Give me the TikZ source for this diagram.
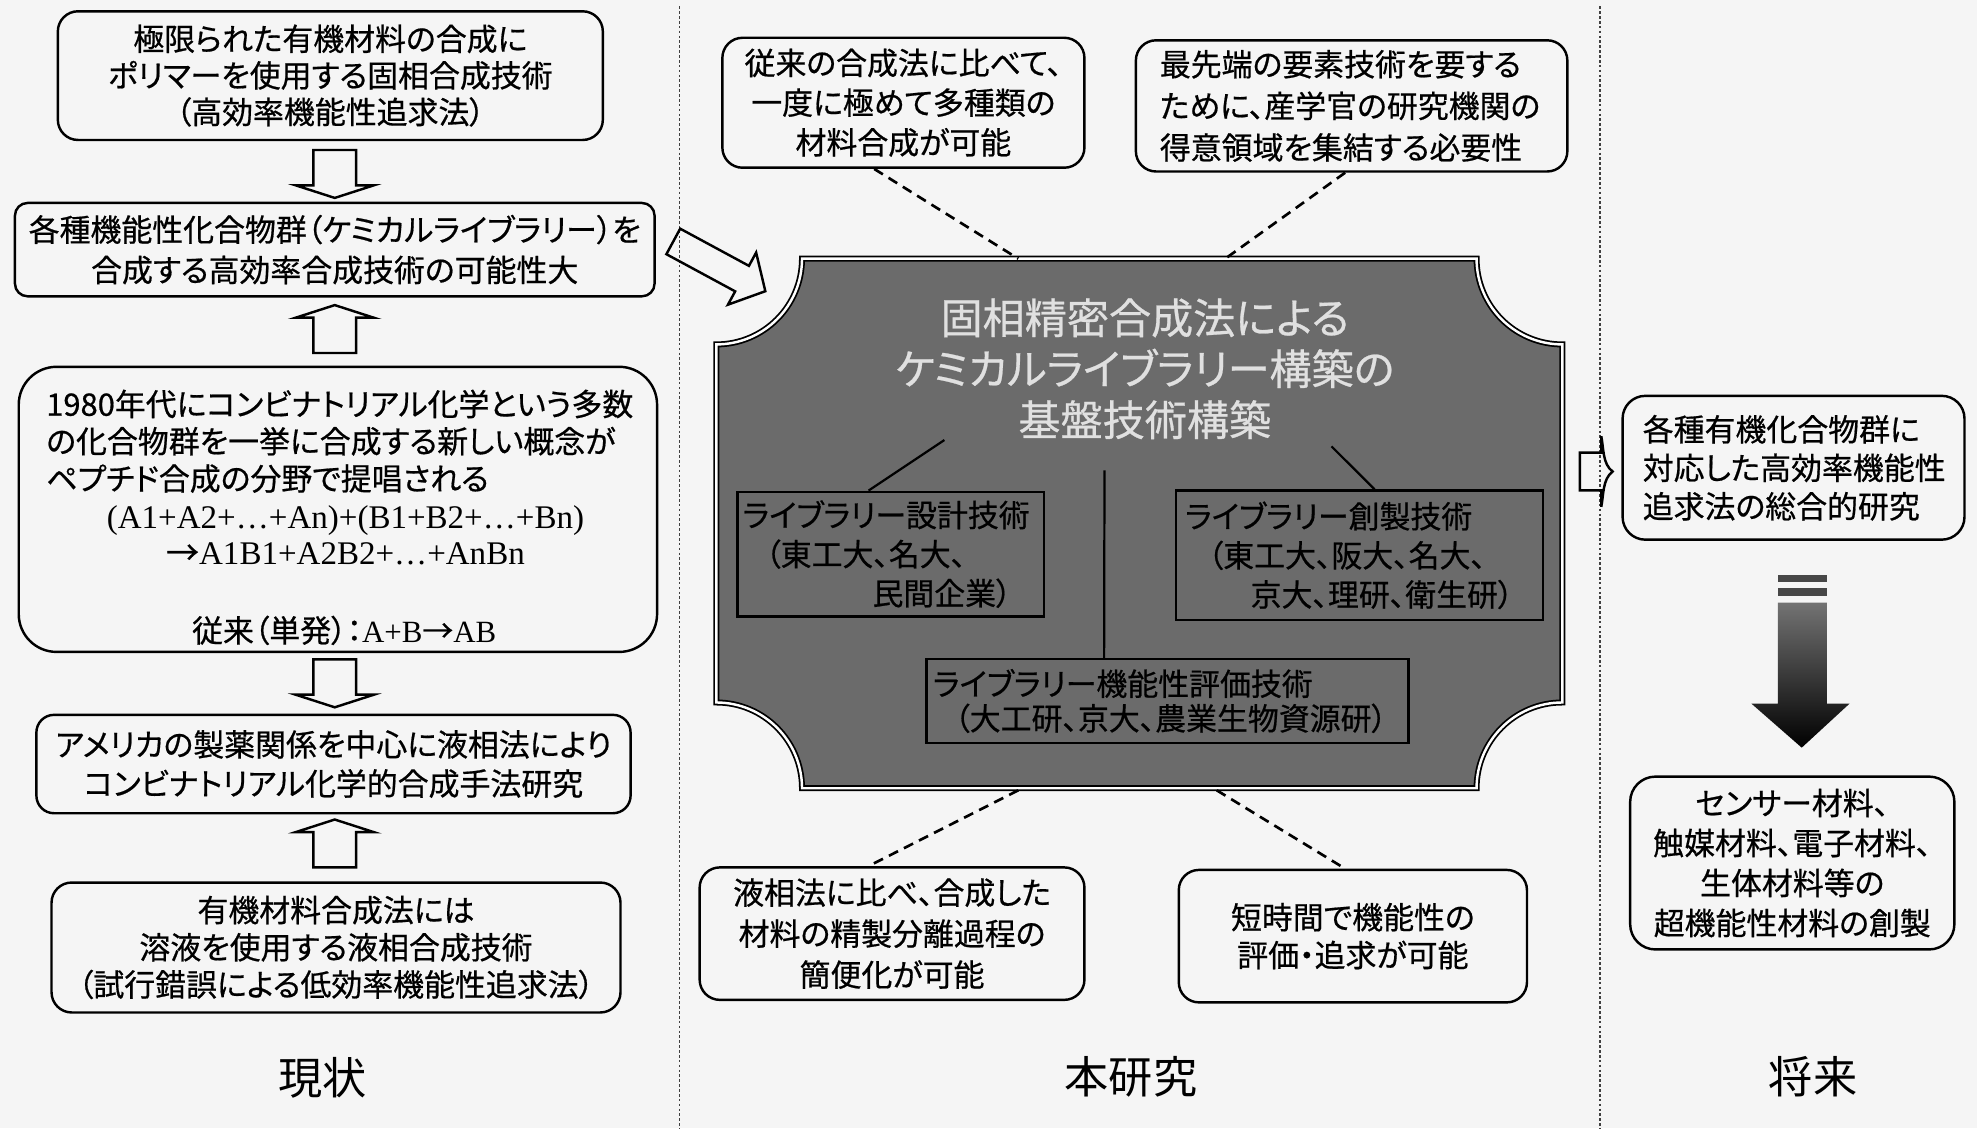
\documentclass[tikz,border=0pt]{standalone}
\usepackage{fontspec}
\usetikzlibrary{calc}
\newfontfamily\jp[RawFeature=+palt, FakeBold=0.6]{Noto Sans CJK JP}
\newfontfamily\jpl[RawFeature=+palt]{Noto Sans CJK JP}
\newfontfamily\ser{Liberation Serif}
\setlength{\parindent}{0pt}
\begin{document}
\begin{tikzpicture}[x=0.01cm, y=-0.01cm,
  jpf/.style={font={\jp\fontsize{6.97pt}{#1}\selectfont}},
  rbox/.style={draw=black, line width=0.55pt, rounded corners=#1, inner sep=0pt},
  ibox/.style={draw=black, line width=0.5pt, inner ysep=0pt},
  dashline/.style={draw=black, line width=0.6pt, dash pattern=on 2.3pt off 1.5pt},
  thinline/.style={draw=black, line width=0.5pt},
  divider/.style={draw=black!75, line width=0.35pt, dash pattern=on 0.6pt off 0.5pt},
  blockarrow/.style={draw=black, line width=0.55pt, line join=miter},
  lbl/.style={font={\jpl\fontsize{9.96pt}{12pt}\selectfont}},
  pics/hdn/.style={code={\draw[blockarrow] (-17,0) -- (-17,28) -- (-31,28) -- (0,38) -- (31,28) -- (17,28) -- (17,0) -- cycle;}},
  pics/hup/.style={code={\draw[blockarrow] (-17,0) -- (-17,-28) -- (-31,-28) -- (0,-38) -- (31,-28) -- (17,-28) -- (17,0) -- cycle;}}
]
\fill[black!4] (0,0) rectangle (1568,895);
\useasboundingbox (0,0) rectangle (1568,895);

% dividers
\draw[divider] (539,5) -- (539,895);
\draw[divider] (1269,5) -- (1269,895);

% ---------- left column ----------
\node[rbox=0.16cm, minimum width=4.32cm, minimum height=1.02cm, align=center, jpf=8.25pt] (b1) at (262,60)
  {極限られた有機材料の合成に\\ポリマーを使用する固相合成技術\\（高効率機能性追求法）};
\node[rbox=0.1cm, minimum width=5.07cm, minimum height=0.74cm, align=center, jpf=9.1pt] (b2) at (265.5,198)
  {各種機能性化合物群（ケミカルライブラリー）を\\合成する高効率合成技術の可能性大};
\node[rbox=0.3cm, minimum width=5.06cm, minimum height=2.26cm] (b3) at (268,404) {};
\node[jpf=8.4pt, align=left, anchor=west, inner sep=0pt] (b3a) at (36,350)
  {1980年代にコンビナトリアル化学という多数\\の化合物群を一挙に合成する新しい概念が\\ペプチド合成の分野で提唱される};
\node[font={\ser\fontsize{7.45pt}{8.25pt}\selectfont}, align=center, inner sep=0pt] (b3b) at (274,424.5)
  {(A1+A2+…+An)+(B1+B2+…+Bn)\\{\jp →}A1B1+A2B2+…+AnBn};
\node[jpf=8.4pt, inner sep=0pt] (b3c) at (273,500) {従来（単発）：{\ser A+B}→{\ser AB}};
\node[rbox=0.14cm, minimum width=4.71cm, minimum height=0.78cm, align=center, jpf=8.82pt] (b4) at (264.5,606)
  {アメリカの製薬関係を中心に液相法により\\コンビナトリアル化学的合成手法研究};
\node[rbox=0.16cm, minimum width=4.51cm, minimum height=1.03cm, align=center, jpf=8.39pt] (b5) at (266.5,751.5)
  {有機材料合成法には\\溶液を使用する液相合成技術\\（試行錯誤による低効率機能性追求法）};

\pic at (265.5,119) {hdn};
\pic at (265.5,280) {hup};
\pic at (265.5,523) {hdn};
\pic at (265.5,688) {hup};

% ---------- middle column ----------
\node[rbox=0.16cm, minimum width=2.87cm, minimum height=1.03cm, align=center, jpf=8.96pt] (b6) at (716.5,81.5)
  {従来の合成法に比べて、\\一度に極めて多種類の\\材料合成が可能};
\node[rbox=0.16cm, minimum height=1.04cm, text width=3.04cm, inner xsep=0.19cm, align=left, jpf=9.39pt] (b7) at (1072,84)
  {最先端の要素技術を要する\\ために、産学官の研究機関の\\得意領域を集結する必要性};
\node[rbox=0.16cm, minimum width=3.05cm, minimum height=1.05cm, align=center, jpf=9.25pt] (b8) at (707.5,740.5)
  {液相法に比べ、合成した\\材料の精製分離過程の\\簡便化が可能};
\node[rbox=0.16cm, minimum width=2.76cm, minimum height=1.05cm, align=center, jpf=8.54pt] (b9) at (1073,742.5)
  {短時間で機能性の\\評価・追求が可能};

% core shape
\node[minimum width=6.71cm, minimum height=4.2cm, inner sep=0pt] (core) at (904.5,416) {};
\begin{scope}[shift={(core.north west)}]
\path[fill=black!58, draw=black, line width=0.4pt, double=white, double distance=0.55pt]
  (68,0) -- (603,0) .. controls (603,37.6) and (633.4,68) .. (671,68)
  -- (671,352) .. controls (633.4,352) and (603,382.4) .. (603,420)
  -- (68,420) .. controls (68,382.4) and (37.6,352) .. (0,352)
  -- (0,68) .. controls (37.6,68) and (68,37.6) .. (68,0) -- cycle;
\end{scope}

\node[font={\jp\fontsize{9.5pt}{11.5pt}\selectfont}, text=black!12, align=center] (title) at (908,292.5)
  {固相精密合成法による\\ケミカルライブラリー構築の\\基盤技術構築};

\node[ibox, minimum height=0.99cm, text width=2.35cm, inner xsep=0.04cm, align=left, jpf=8.82pt] (lb) at (706.5,439.5)
  {ライブラリー設計技術\\\hspace*{0.18cm}（東工大、名大、\\\hspace*{1.03cm}民間企業）};
\node[ibox, minimum height=1.03cm, text width=2.77cm, inner xsep=0.07cm, align=left, jpf=8.82pt] (rb) at (1078.5,440.5)
  {ライブラリー創製技術\\\hspace*{0.18cm}（東工大、阪大、名大、\\\hspace*{0.52cm}京大、理研、衛生研）};
\node[ibox, minimum height=0.66cm, text width=3.72cm, inner xsep=0.05cm, align=left, jpf=7.8pt] (bb) at (926,556)
  {ライブラリー機能性評価技術\\\hspace*{0.17cm}（大工研、京大、農業生物資源研）};

\coordinate (t1) at (749,349);
\coordinate (t2) at (1056,354);
\coordinate (t3) at (876,373);
\draw[thinline] (t1) -- ($(lb.north west)!0.428!(lb.north east)$);
\draw[thinline] (t2) -- ($(rb.north west)!0.54!(rb.north east)$);
\draw[thinline] (t3) -- ($(bb.north west)!0.369!(bb.north east)$);

\draw[dashline] ($(b6.south west)!0.42!(b6.south east)$) -- ($(core.north west)!0.356!(core.north east)$);
\draw[dashline] ($(b7.south west)!0.485!(b7.south east)$) -- ($(core.north west)!0.60!(core.north east)$);
\draw[dashline] ($(core.south west)!0.356!(core.south east)$) -- ($(b8.north west)!0.439!(b8.north east)$);
\draw[dashline] ($(core.south west)!0.59!(core.south east)$) -- ($(b9.north west)!0.478!(b9.north east)$);

% diagonal hollow arrow from b2 to core
\coordinate (dstart) at (534,191.5);
\begin{scope}[shift={(dstart)}, rotate=-28.4]
\draw[blockarrow] (0,-11.5) -- (62,-11.5) -- (62,-23.5) -- (83,0) -- (62,23.5) -- (62,11.5) -- (0,11.5) -- cycle;
\end{scope}

% ---------- right column ----------
\node[rbox=0.18cm, minimum height=1.14cm, text width=2.39cm, inner xsep=0.16cm, align=left, jpf=8.68pt] (b10) at (1422.5,371)
  {各種有機化合物群に\\対応した高効率機能性\\追求法の総合的研究};
\draw[blockarrow] (1253,359) -- (1270,359) -- (1270,346) .. controls (1272,356) and (1271,368) .. (1279,374)
  .. controls (1271,380) and (1272,392) .. (1270,402) -- (1270,389) -- (1253,389) -- cycle;

\fill[black!72] (1410,456) rectangle (1449,461.5);
\fill[black!72] (1410,466) rectangle (1449,473);
\shade[top color=black!55, middle color=black!72, bottom color=black]
  (1410,478) -- (1449,478) -- (1449,558) -- (1467,558) -- (1429,593) -- (1389,558) -- (1410,558) -- cycle;

\node[rbox=0.2cm, minimum width=2.57cm, minimum height=1.37cm, align=center, jpf=9.02pt] (b11) at (1421.5,684.5)
  {センサー材料、\\触媒材料、電子材料、\\生体材料等の\\超機能性材料の創製};

% ---------- labels ----------
\node[lbl] (l1) at (256,855) {現状};
\node[lbl] (l2) at (897,854) {本研究};
\node[lbl] (l3) at (1438,854) {将来};
\end{tikzpicture}
\end{document}
